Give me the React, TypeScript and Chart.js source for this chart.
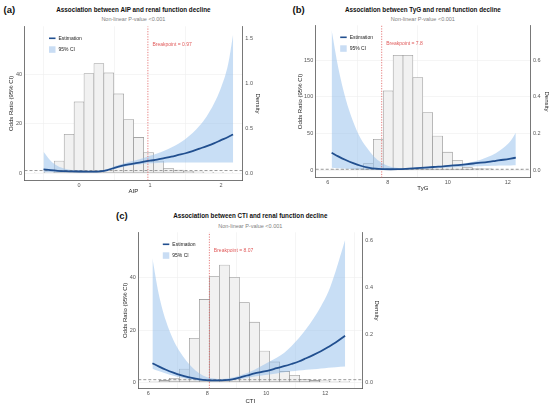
import React, { useEffect, useRef } from "react";
import { Chart, registerables } from "chart.js";

Chart.register(...registerables);

// ---------- Panel (a): AIP ----------
const aCurveX = [-0.5, -0.4, -0.3, -0.2, -0.1, 0, 0.1, 0.2, 0.3, 0.4, 0.5, 0.6, 0.7, 0.8, 0.9, 1.0, 1.1, 1.2, 1.3, 1.4, 1.5, 1.6, 1.7, 1.8, 1.9, 2.0, 2.1, 2.17];
const aEstimate = [1.5, 1.15, 0.9, 0.75, 0.68, 0.62, 0.57, 0.55, 0.7, 1.2, 2.1, 2.9, 3.5, 4.0, 4.5, 5.0, 5.4, 6.0, 6.6, 7.3, 8.0, 8.9, 9.9, 10.9, 12.0, 13.3, 14.6, 15.6];
const aUpper = [8.6, 5.0, 2.8, 1.7, 1.2, 1.0, 0.9, 0.85, 1.0, 1.6, 2.7, 3.7, 4.5, 5.2, 6.0, 7.0, 7.9, 9.0, 10.3, 11.8, 13.8, 16.2, 19.2, 23.0, 28.0, 34.5, 44.0, 56.0];
const aLower = [0.3, 0.3, 0.3, 0.3, 0.3, 0.3, 0.3, 0.3, 0.45, 0.9, 1.6, 2.3, 2.9, 3.3, 3.7, 3.95, 4.1, 4.2, 4.25, 4.3, 4.3, 4.3, 4.3, 4.3, 4.3, 4.3, 4.3, 4.3];
const aHistX = [-0.56, -0.42, -0.28, -0.14, 0, 0.14, 0.28, 0.42, 0.56, 0.7, 0.84, 0.98, 1.12, 1.26, 1.4, 1.54, 1.68, 1.82, 1.96, 2.1];
const aHistDensity = [0.006, 0.012, 0.133, 0.43, 0.79, 1.105, 1.216, 1.112, 0.879, 0.595, 0.396, 0.228, 0.133, 0.052, 0.033, 0.02, 0.014, 0.01, 0.008, 0.006];
const aXTicks = [0, 1, 2];
const aORTicks = [0, 20, 40];
const aDensityTicks = [0, 0.5, 1.0, 1.5];
const aXRange = [-0.768, 2.3];
const aORRange = [-3.03, 59.4];
const aDensityRange = [-0.083, 1.63];
const aBreakpoint = 0.97;

// ---------- Panel (b): TyG ----------
const bCurveX = [6.13, 6.35, 6.6, 6.85, 7.1, 7.35, 7.6, 7.85, 8.1, 8.35, 8.6, 8.85, 9.1, 9.35, 9.6, 9.85, 10.1, 10.35, 10.6, 10.85, 11.1, 11.35, 11.6, 11.85, 12.1, 12.27];
const bEstimate = [23.6, 18.6, 13.6, 9.3, 5.8, 3.4, 1.8, 1.2, 1.0, 1.1, 1.5, 2.1, 2.8, 3.6, 4.3, 5.0, 5.9, 6.8, 7.8, 8.9, 10.0, 11.2, 12.6, 14.0, 15.6, 16.8];
const bUpper = [191, 140, 97, 66, 43, 28, 16, 8.5, 4.5, 2.8, 2.6, 3.2, 4.0, 4.6, 5.0, 5.7, 6.5, 7.6, 9.2, 11.3, 14.0, 18.0, 23.0, 30.0, 40.0, 51.0];
const bLower = [3.0, 2.4, 1.8, 1.2, 0.8, 0.5, 0.3, 0.3, 0.3, 0.3, 0.3, 0.6, 1.2, 1.8, 2.4, 3.0, 3.5, 4.0, 4.4, 4.8, 5.1, 5.4, 5.7, 6.0, 6.2, 6.4];
const bHistX = [6.365, 6.695, 7.025, 7.355, 7.685, 8.015, 8.345, 8.675, 9.005, 9.335, 9.665, 9.995, 10.325, 10.655, 10.985, 11.315, 11.645, 11.975, 12.305];
const bHistDensity = [0.002, 0.003, 0.006, 0.035, 0.168, 0.433, 0.628, 0.628, 0.506, 0.315, 0.186, 0.098, 0.053, 0.015, 0.008, 0.006, 0.004, 0.003, 0.002];
const bXTicks = [6, 8, 10, 12];
const bORTicks = [0, 50, 100, 150];
const bDensityTicks = [0, 0.2, 0.4, 0.6];
const bXRange = [5.6, 12.743];
const bORRange = [-10.5, 197.5];
const bDensityRange = [-0.042, 0.792];
const bBreakpoint = 7.8;

// ---------- Panel (c): CTI ----------
const cCurveX = [6.14, 6.35, 6.6, 6.85, 7.1, 7.35, 7.6, 7.85, 8.1, 8.35, 8.6, 8.85, 9.1, 9.35, 9.6, 9.85, 10.1, 10.35, 10.6, 10.85, 11.1, 11.35, 11.6, 11.85, 12.1, 12.35, 12.67];
const cEstimate = [7.3, 6.1, 4.8, 3.7, 2.75, 2.0, 1.4, 0.95, 0.75, 0.7, 0.8, 1.15, 1.8, 2.6, 3.4, 4.0, 4.6, 5.4, 6.15, 7.0, 7.95, 9.2, 10.5, 11.9, 13.5, 15.2, 17.8];
const cUpper = [47.4, 34, 23.4, 16.2, 11.2, 7.4, 4.5, 2.6, 1.6, 1.3, 1.4, 1.8, 2.6, 3.6, 4.8, 6.3, 7.9, 9.4, 11.2, 13.8, 16.8, 20.4, 24.4, 29, 34.5, 42.5, 54.4];
const cLower = [5.2, 4.3, 3.4, 2.5, 1.8, 1.2, 0.8, 0.55, 0.45, 0.45, 0.55, 0.8, 1.2, 1.7, 2.2, 2.6, 3.0, 3.4, 3.8, 4.2, 4.5, 4.8, 5.0, 5.3, 5.6, 5.8, 6.0];
const cHistX = [6.2, 6.54, 6.88, 7.22, 7.56, 7.9, 8.24, 8.58, 8.92, 9.26, 9.6, 9.94, 10.28, 10.62, 10.96, 11.3, 11.64, 11.98, 12.32, 12.66];
const cHistDensity = [0.004, 0.008, 0.017, 0.056, 0.186, 0.35, 0.446, 0.495, 0.443, 0.336, 0.254, 0.132, 0.086, 0.046, 0.03, 0.012, 0.008, 0.006, 0.004, 0.003];
const cXTicks = [6, 8, 10, 12];
const cORTicks = [0, 20, 40];
const cDensityTicks = [0, 0.2, 0.4, 0.6];
const cXRange = [5.661, 13.254];
const cORRange = [-2.37, 57.36];
const cDensityRange = [-0.026, 0.633];
const cBreakpoint = 8.07;

const REFERENCE_OR = 1;

// ---------- styles ----------
const FONT = '"Liberation Sans", Arial, Helvetica, sans-serif';
const LINE_COLOR = "#214f8f";
const BAND_COLOR = "rgba(150,192,236,0.52)";
const BAND_LEGEND = "#c9ddf4";
const BAR_FILL = "#f1f1f1";
const BAR_BORDER = "#8e8e8e";
const GRID = "#eeeeee";
const AXIS = "#555555";
const TICK = "#555555";
const RED = "#e05a5a";

type Box = {
  left: number; top: number; width: number; height: number;
  padTop: number; lw: number; rw: number; xh: number;
  leftTitlePad: number; rightTitlePad: number;
};

type PanelProps = {
  curveX: number[]; est: number[]; upper: number[]; lower: number[];
  histX: number[]; histY: number[];
  xTicks: number[]; orTicks: number[]; densTicks: number[];
  xRange: number[]; orRange: number[]; densRange: number[];
  breakpoint: number; xLabel: string; box: Box;
};

const overlayPlugin = {
  id: "overlay",
  afterDatasetsDraw(chart: any, _args: any, opts: any) {
    const { ctx, chartArea: ca, scales } = chart;
    ctx.save();
    const lx = ca.left + 24.5;
    ctx.strokeStyle = LINE_COLOR;
    ctx.lineWidth = 1.6;
    ctx.beginPath();
    ctx.moveTo(lx, ca.top + 12);
    ctx.lineTo(lx + 6.5, ca.top + 12);
    ctx.stroke();
    ctx.fillStyle = BAND_LEGEND;
    ctx.fillRect(lx, ca.top + 20, 6.5, 6.5);
    ctx.font = `5px ${FONT}`;
    ctx.textBaseline = "middle";
    ctx.textAlign = "left";
    ctx.fillStyle = "#222222";
    ctx.fillText("Estimation", lx + 9.5, ca.top + 12);
    ctx.fillText("95% CI", lx + 9.5, ca.top + 23.2);
    const bx = scales.x.getPixelForValue(opts.breakpoint);
    ctx.fillStyle = RED;
    ctx.fillText(`Breakpoint = ${opts.breakpoint}`, bx + 4.5, ca.top + 18.7);
    ctx.restore();
  },
};

function Panel(p: PanelProps) {
  const ref = useRef<HTMLCanvasElement | null>(null);
  useEffect(() => {
    if (!ref.current) return;
    const pts = (xs: number[], ys: number[]) => xs.map((x, i) => ({ x, y: ys[i] }));
    const tickFont = { size: 5.5, family: FONT };
    const titleFont = { size: 6, family: FONT };
    const chart = new Chart(ref.current, {
      type: "line",
      data: {
        datasets: [
          {
            label: "Estimation",
            data: pts(p.curveX, p.est),
            borderColor: LINE_COLOR,
            borderWidth: 1.8,
            pointRadius: 0,
            cubicInterpolationMode: "monotone",
            fill: false,
            yAxisID: "y",
            order: 0,
          },
          {
            label: "upper",
            data: pts(p.curveX, p.upper),
            borderWidth: 0,
            borderColor: "rgba(0,0,0,0)",
            backgroundColor: BAND_COLOR,
            pointRadius: 0,
            cubicInterpolationMode: "monotone",
            fill: "+1",
            yAxisID: "y",
            order: 2,
          },
          {
            label: "lower",
            data: pts(p.curveX, p.lower),
            borderWidth: 0,
            borderColor: "rgba(0,0,0,0)",
            pointRadius: 0,
            cubicInterpolationMode: "monotone",
            fill: false,
            yAxisID: "y",
            order: 2,
          },
          {
            label: "ref",
            data: [
              { x: p.xRange[0], y: REFERENCE_OR },
              { x: p.xRange[1], y: REFERENCE_OR },
            ],
            borderColor: "#808080",
            borderWidth: 0.8,
            borderDash: [3, 2],
            pointRadius: 0,
            fill: false,
            yAxisID: "y",
            order: 1,
          },
          {
            label: "bp",
            data: [
              { x: p.breakpoint, y: p.orRange[0] },
              { x: p.breakpoint, y: p.orRange[1] },
            ],
            borderColor: RED,
            borderWidth: 0.8,
            borderDash: [1.2, 1.4],
            pointRadius: 0,
            fill: false,
            yAxisID: "y",
            order: 1,
          },
          {
            type: "bar",
            label: "hist",
            data: pts(p.histX, p.histY),
            backgroundColor: BAR_FILL,
            borderColor: BAR_BORDER,
            borderWidth: 0.6,
            borderSkipped: false,
            barPercentage: 1,
            categoryPercentage: 1,
            yAxisID: "y1",
            order: 3,
          } as any,
        ],
      },
      options: {
        animation: false,
        responsive: true,
        maintainAspectRatio: false,
        layout: { padding: { top: p.box.padTop, left: 0, right: 0, bottom: 0 } },
        plugins: {
          legend: { display: false },
          tooltip: { enabled: false },
          overlay: { breakpoint: p.breakpoint },
        } as any,
        scales: {
          x: {
            type: "linear",
            min: p.xRange[0],
            max: p.xRange[1],
            offset: false,
            afterBuildTicks: (s: any) => {
              s.ticks = p.xTicks.map((v) => ({ value: v }));
            },
            afterFit: (s: any) => {
              s.height = p.box.xh;
            },
            grid: { color: GRID, lineWidth: 0.6, drawTicks: false },
            border: { color: AXIS, width: 0.8 },
            ticks: {
              font: tickFont,
              color: TICK,
              padding: 1.5,
              maxRotation: 0,
              autoSkip: false,
              callback: (v: any) => String(v),
            },
            title: {
              display: true,
              text: p.xLabel,
              font: titleFont,
              color: "#222222",
              padding: { top: 0, bottom: 0 },
            },
          },
          y: {
            type: "linear",
            position: "left",
            min: p.orRange[0],
            max: p.orRange[1],
            afterBuildTicks: (s: any) => {
              s.ticks = p.orTicks.map((v) => ({ value: v }));
            },
            afterFit: (s: any) => {
              s.width = p.box.lw;
            },
            grid: { color: GRID, lineWidth: 0.6, drawTicks: false },
            border: { color: AXIS, width: 0.8 },
            ticks: {
              font: tickFont,
              color: TICK,
              padding: 2.5,
              callback: (v: any) => String(v),
            },
            title: {
              display: true,
              text: "Odds Ratio (95% CI)",
              font: titleFont,
              color: "#222222",
              padding: { top: p.box.leftTitlePad, bottom: 0 },
            },
          },
          y1: {
            type: "linear",
            position: "right",
            min: p.densRange[0],
            max: p.densRange[1],
            afterBuildTicks: (s: any) => {
              s.ticks = p.densTicks.map((v) => ({ value: v }));
            },
            afterFit: (s: any) => {
              s.width = p.box.rw;
            },
            grid: { drawOnChartArea: false, drawTicks: false },
            border: { color: AXIS, width: 0.8 },
            ticks: {
              font: tickFont,
              color: TICK,
              padding: 3,
              callback: (v: any) => Number(v).toFixed(1),
            },
            title: {
              display: true,
              text: "Density",
              font: titleFont,
              color: "#222222",
              padding: { top: p.box.rightTitlePad, bottom: 0 },
            },
          },
        },
      } as any,
      plugins: [overlayPlugin as any],
    });
    return () => chart.destroy();
  }, []);
  const b = p.box;
  return (
    <div style={{ position: "absolute", left: b.left, top: b.top, width: b.width, height: b.height }}>
      <canvas ref={ref} />
    </div>
  );
}

function Heading(props: { tag: string; tagX: number; y: number; cx: number; title: string; subY: number }) {
  return (
    <>
      <div
        style={{
          position: "absolute",
          left: props.tagX,
          top: props.y - 5,
          fontFamily: FONT,
          fontWeight: "bold",
          fontSize: "9.5px",
          lineHeight: "10px",
          color: "#111",
          whiteSpace: "nowrap",
        }}
      >
        {props.tag}
      </div>
      <div
        style={{
          position: "absolute",
          left: props.cx - 150,
          width: 300,
          top: props.y - 4,
          textAlign: "center",
          fontFamily: FONT,
          fontWeight: "bold",
          fontSize: "6.3px",
          lineHeight: "8px",
          color: "#111",
          whiteSpace: "nowrap",
        }}
      >
        {props.title}
      </div>
      <div
        style={{
          position: "absolute",
          left: props.cx - 150,
          width: 300,
          top: props.subY - 3.5,
          textAlign: "center",
          fontFamily: FONT,
          fontSize: "5.5px",
          lineHeight: "7px",
          color: "#808080",
          whiteSpace: "nowrap",
        }}
      >
        Non-linear P-value  &lt;0.001
      </div>
    </>
  );
}

export default function App() {
  return (
    <div
      style={{
        position: "fixed",
        left: 0,
        top: 0,
        width: 550,
        height: 408,
        background: "#ffffff",
        overflow: "hidden",
      }}
    >
      <Heading tag="(a)" tagX={3.5} y={10} cx={133.4} title="Association between AIP and renal function decline" subY={19.5} />
      <Heading tag="(b)" tagX={292.5} y={10} cx={422.9} title="Association between TyG and renal function decline" subY={19} />
      <Heading tag="(c)" tagX={116} y={215.5} cx={250.3} title="Association between CTI and renal function decline" subY={226} />
      <Panel
        curveX={aCurveX} est={aEstimate} upper={aUpper} lower={aLower}
        histX={aHistX} histY={aHistDensity}
        xTicks={aXTicks} orTicks={aORTicks} densTicks={aDensityTicks}
        xRange={aXRange} orRange={aORRange} densRange={aDensityRange}
        breakpoint={aBreakpoint} xLabel="AIP"
        box={{ left: 3, top: 20, width: 262, height: 175, padTop: 6, lw: 21.5, rw: 22.7, xh: 14.5, leftTitlePad: 4.4, rightTitlePad: 3.4 }}
      />
      <Panel
        curveX={bCurveX} est={bEstimate} upper={bUpper} lower={bLower}
        histX={bHistX} histY={bHistDensity}
        xTicks={bXTicks} orTicks={bORTicks} densTicks={bDensityTicks}
        xRange={bXRange} orRange={bORRange} densRange={bDensityRange}
        breakpoint={bBreakpoint} xLabel="TyG"
        box={{ left: 292, top: 19, width: 258, height: 173, padTop: 6, lw: 23.7, rw: 20, xh: 14.3, leftTitlePad: 4.4, rightTitlePad: 0 }}
      />
      <Panel
        curveX={cCurveX} est={cEstimate} upper={cUpper} lower={cLower}
        histX={cHistX} histY={cHistDensity}
        xTicks={cXTicks} orTicks={cORTicks} densTicks={cDensityTicks}
        xRange={cXRange} orRange={cORRange} densRange={cDensityRange}
        breakpoint={cBreakpoint} xLabel="CTI"
        box={{ left: 117, top: 226, width: 265, height: 179, padTop: 6.3, lw: 21.3, rw: 19.7, xh: 16.5, leftTitlePad: 4.4, rightTitlePad: 1.7 }}
      />
    </div>
  );
}
